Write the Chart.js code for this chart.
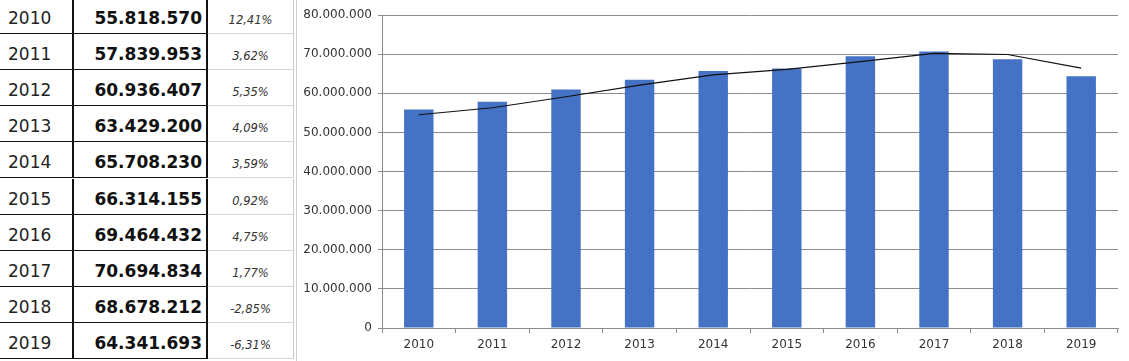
<!DOCTYPE html>
<html>
<head>
<meta charset="utf-8">
<script src="https://cdn.jsdelivr.net/npm/chart.js@4"></script>
<style>
    body { margin: 0; width: 1129px; height: 361px; overflow: hidden; background: #fff; position: relative; font-family: "DejaVu Sans", sans-serif; }
    #table { position: absolute; left: 0; top: 0; width: 297px; height: 361px; }
    .cell { position: absolute; box-sizing: border-box; white-space: nowrap; display: flex; align-items: flex-end; }
    .year { left: 0; width: 74px; padding-left: 8px; padding-bottom: 5px; font-size: 17px; color: #222; border-bottom: 1.5px solid #111; border-right: 2px solid #111; }
    .value { left: 74px; width: 134px; justify-content: flex-end; padding-right: 4px; padding-bottom: 5px; font-size: 17px; font-weight: bold; color: #111; border-bottom: 1.5px solid #111; border-right: 2px solid #111; }
    .pct { left: 208px; width: 86px; justify-content: center; padding-bottom: 6px; font-size: 11.5px; font-style: italic; color: #333; border-bottom: 1px solid #d6d6d6; border-right: 1px solid #c8c8c8; }
    #edge { position: absolute; left: 296px; top: 0; width: 1px; height: 361px; background: #d0d0d0; }
    #chartBox { position: absolute; left: 297px; top: 0; width: 832px; height: 361px; }
</style>
</head>
<body>
<div id="table"></div>
<div id="edge"></div>
<div id="chartBox"><canvas id="chart" width="832" height="361"></canvas></div>
<script>
const years = ["2010", "2011", "2012", "2013", "2014", "2015", "2016", "2017", "2018", "2019"];
const totals = [55818570, 57839953, 60936407, 63429200, 65708230, 66314155, 69464432, 70694834, 68678212, 64341693];
const growth = ["12,41%", "3,62%", "5,35%", "4,09%", "3,59%", "0,92%", "4,75%", "1,77%", "-2,85%", "-6,31%"];
// trend line
const trend = [54500000, 56300000, 59100000, 62100000, 64700000, 66100000, 68100000, 70200000, 69900000, 66400000];
const yTicks = [0, 10000000, 20000000, 30000000, 40000000, 50000000, 60000000, 70000000, 80000000];

function dots(n) {
    return String(Math.round(n)).replace(/\B(?=(\d{3})+(?!\d))/g, ".");
}

const tableEl = document.getElementById("table");
const rowH = 36.1;
years.forEach((y, i) => {
    const top = -2 + i * rowH;
    [["year", y], ["value", dots(totals[i])], ["pct", growth[i]]].forEach(([cls, txt]) => {
        const c = document.createElement("div");
        c.className = "cell " + cls;
        c.style.top = top + "px";
        c.style.height = rowH + "px";
        c.textContent = txt;
        tableEl.appendChild(c);
    });
});

const gridGray = "#8c8c8c";
const tickFont = {family: "DejaVu Sans", size: 12};

new Chart(document.getElementById("chart").getContext("2d"), {
    data: {
        labels: years,
        datasets: [
            {
                type: "line",
                data: trend,
                borderColor: "#111",
                borderWidth: 1.2,
                pointRadius: 0,
                fill: false,
                tension: 0,
                order: 0,
            },
            {
                type: "bar",
                data: totals,
                backgroundColor: "#4472C4",
                barPercentage: 0.4,
                categoryPercentage: 1,
                order: 1,
            },
        ],
    },
    options: {
        responsive: false,
        animation: false,
        layout: {padding: {top: 15, right: 11, left: 0, bottom: 0}},
        plugins: {legend: {display: false}, tooltip: {enabled: false}},
        scales: {
            x: {
                offset: true,
                grid: {display: true, drawOnChartArea: false, offset: true, tickLength: 5, color: gridGray},
                border: {color: gridGray},
                ticks: {color: "#333", font: tickFont, padding: 5},
                afterFit: (s) => { s.height = 33; },
            },
            y: {
                min: 0,
                max: 80000000,
                afterBuildTicks: (s) => { s.ticks = yTicks.map((v) => ({value: v})); },
                ticks: {color: "#333", font: tickFont, padding: 6, callback: (v) => dots(v)},
                grid: {color: gridGray, tickLength: 4},
                border: {color: gridGray},
                afterFit: (s) => { s.width = 85; },
            },
        },
    },
});
</script>
</body>
</html>
